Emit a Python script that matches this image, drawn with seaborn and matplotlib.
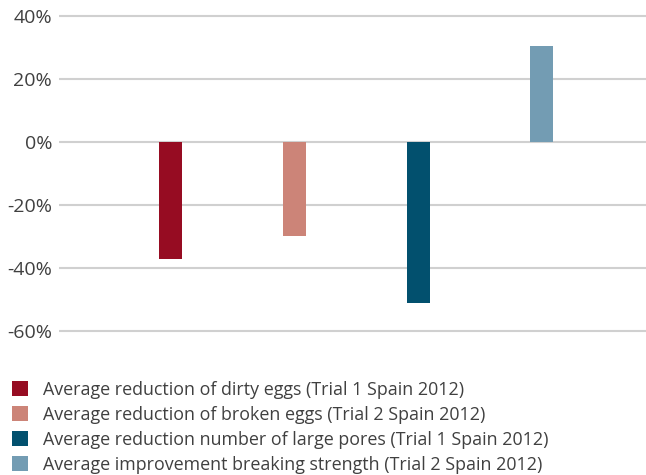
import matplotlib
matplotlib.use('Agg')
import matplotlib.pyplot as plt
import matplotlib.patches as mpatches
import seaborn as sns
import pandas as pd

# values (percent)
labels = ['Average reduction of dirty eggs (Trial 1 Spain 2012)',
          'Average reduction of broken eggs (Trial 2 Spain 2012)',
          'Average reduction number of large pores (Trial 1 Spain 2012)',
          'Average improvement breaking strength (Trial 2 Spain 2012)']
values = [-37, -30, -51, 30.5]
colors = ['#960c22', '#cc8478', '#02506e', '#739cb3']
yticks = [-60, -40, -20, 0, 20, 40]

df = pd.DataFrame({'measure': labels, 'change': values})

sns.set_style('white')
plt.rcParams['font.family'] = ['Open Sans', 'DejaVu Sans']

fig = plt.figure(figsize=(6.46, 4.75), dpi=100)
ax = fig.add_axes([59 / 646, 1 - 335.7 / 475, 1 - 59 / 646, (335.7 - 11.3) / 475])

sns.barplot(data=df, x='measure', y='change', hue='measure', palette=colors,
            order=labels, hue_order=labels, width=0.186, dodge=False,
            legend=False, ax=ax, zorder=2, saturation=1, linewidth=0)

ax.set_xlim(-0.9, 3.84)
ax.set_ylim(-61.5, 41.5)
ax.set_yticks(yticks)
ax.set_yticklabels([f'{t}%' for t in yticks])
ax.set_xticks([])
ax.set_xlabel('')
ax.set_ylabel('')
ax.grid(axis='y', color='#d0d0d0', linewidth=1.5, zorder=0)
ax.set_axisbelow(True)
ax.tick_params(axis='y', length=0, labelsize=14, labelcolor='#404040', pad=5)
for s in ax.spines.values():
    s.set_visible(False)

handles = [mpatches.Patch(color=c, linewidth=0) for c in colors]
fig.legend(handles, labels, loc='upper left', bbox_to_anchor=(12 / 646, 0.198),
           frameon=False, handlelength=0.89, handleheight=0.89, handletextpad=0.84,
           labelspacing=0.39, fontsize=12.9, labelcolor='#404040',
           borderaxespad=0, borderpad=0)

fig.savefig('out.png', dpi=100)
